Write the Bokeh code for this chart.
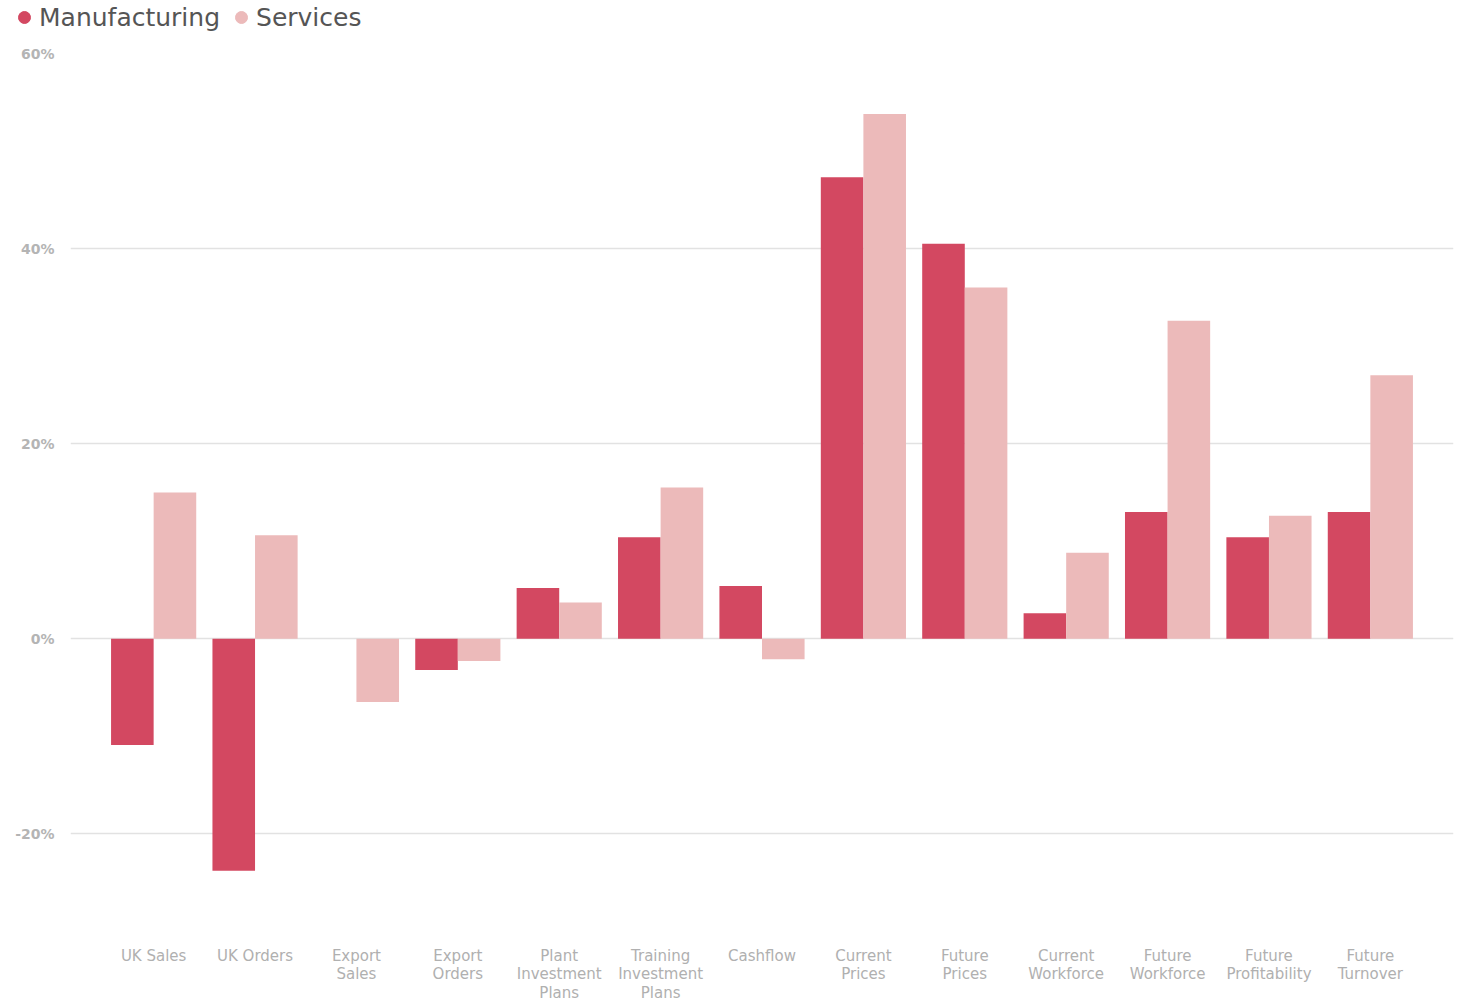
from bokeh.plotting import figure
from bokeh.layouts import column, row
from bokeh.models import (FactorRange, Range1d, ColumnDataSource, Legend, LegendItem,
                          FixedTicker, CustomJSTickFormatter)
from bokeh.transform import dodge
from bokeh.embed import file_html
from bokeh.resources import INLINE

categories = ["UK Sales", "UK Orders", "Export\nSales", "Export\nOrders",
              "Plant\nInvestment\nPlans", "Training\nInvestment\nPlans", "Cashflow",
              "Current\nPrices", "Future\nPrices", "Current\nWorkforce",
              "Future\nWorkforce", "Future\nProfitability", "Future\nTurnover"]
series_names = ["Manufacturing", "Services"]
manufacturing = [-10.9, -23.8, 0.0, -3.2, 5.2, 10.4, 5.4, 47.3, 40.5, 2.6, 13.0, 10.4, 13.0]
services = [15.0, 10.6, -6.5, -2.3, 3.7, 15.5, -2.1, 53.8, 36.0, 8.8, 32.6, 12.6, 27.0]
y_ticks = [-20, 0, 20, 40, 60]

M_COLOR = "#D34861"
S_COLOR = "#ECBABA"
FONT = "DejaVu Sans"

src = ColumnDataSource(dict(cat=categories, m=manufacturing, s=services))

# ---- legend strip (its own small figure so the legend can sit left of the y axis)
lg = figure(width=1461, height=40, x_range=Range1d(0, 1), y_range=Range1d(0, 1),
            min_border=0, min_border_left=0, x_axis_location=None, y_axis_location=None,
            output_backend="svg", toolbar_location=None)
lg.outline_line_color = None
lg.grid.visible = False
lm = lg.scatter(x=[5], y=[5], marker="circle", size=12, fill_color=M_COLOR, line_color=M_COLOR)
ls = lg.scatter(x=[5], y=[5], marker="circle", size=12, fill_color=S_COLOR, line_color=S_COLOR)
legend = Legend(items=[LegendItem(label=series_names[0], renderers=[lm]),
                       LegendItem(label=series_names[1], renderers=[ls])],
                orientation="horizontal", location=(9, 8),
                label_text_font=FONT, label_text_font_size="25px", label_text_color="#555555",
                glyph_width=30, glyph_height=30, label_standoff=-2, spacing=6,
                padding=0, margin=0, border_line_color=None, background_fill_alpha=0,
                label_height=30)
lg.add_layout(legend, "center")

# ---- main chart
p = figure(x_range=FactorRange(factors=categories, range_padding=0.64 / 13),
           y_range=Range1d(-29, 60),
           frame_width=1383, frame_height=868,
           min_border_left=70, min_border_top=13, min_border_right=8,
           output_backend="svg", toolbar_location=None)

p.vbar(x=dodge("cat", -0.21, range=p.x_range), top="m", width=0.42, source=src,
       fill_color=M_COLOR, line_color=None)
p.vbar(x=dodge("cat", 0.21, range=p.x_range), top="s", width=0.42, source=src,
       fill_color=S_COLOR, line_color=None)

p.outline_line_color = None
p.xgrid.grid_line_color = None
p.ygrid.grid_line_color = "#e2e2e2"
p.ygrid.grid_line_width = 1.5
p.ygrid.ticker = FixedTicker(ticks=y_ticks)

p.yaxis.ticker = FixedTicker(ticks=y_ticks)
p.yaxis.formatter = CustomJSTickFormatter(code="return tick + '%'")
p.yaxis.axis_line_color = None
p.yaxis.major_tick_line_color = None
p.yaxis.minor_tick_line_color = None
p.yaxis.major_label_text_font = FONT
p.yaxis.major_label_text_font_style = "bold"
p.yaxis.major_label_text_font_size = "14px"
p.yaxis.major_label_text_color = "#b4b4b4"
p.yaxis.major_label_standoff = 10

p.xaxis.axis_line_color = None
p.xaxis.major_tick_line_color = None
p.xaxis.minor_tick_line_color = None
p.xaxis.major_label_text_font = FONT
p.xaxis.major_label_text_font_size = "15px"
p.xaxis.major_label_text_color = "#b0b0b0"
p.xaxis.major_label_standoff = 19
p.xaxis.major_label_text_line_height = 1.04

layout = column(row(lg), p, spacing=0)

open("out.html", "w").write(file_html(layout, INLINE))
